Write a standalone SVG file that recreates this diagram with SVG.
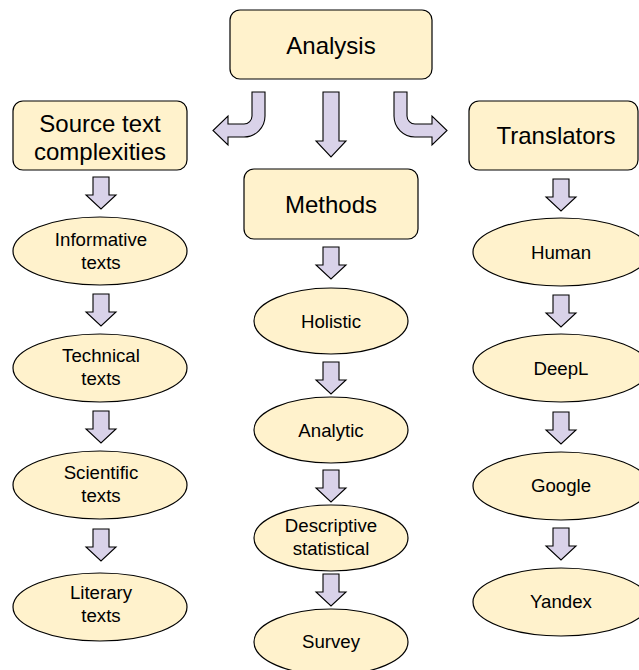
<svg xmlns="http://www.w3.org/2000/svg" width="639" height="670" viewBox="0 0 639 670">
<style>
.box{fill:#fff2cc;stroke:#000;stroke-width:1.2}
.ell{fill:#fff2cc;stroke:#000;stroke-width:1.2}
.arr{fill:#d9d2e9;stroke:#000;stroke-width:1.1;stroke-linejoin:miter}
.tb{font-family:"Liberation Sans",Arial,sans-serif;font-size:24px;fill:#000;text-anchor:middle}
.te{font-family:"Liberation Sans",Arial,sans-serif;font-size:18.67px;fill:#000;text-anchor:middle}
</style>
<defs>
<path id="down" class="arr" d="M-8,0 H8 V18 H15 L0,32 L-15,18 H-8 Z"/>
</defs>
<rect width="639" height="670" fill="#fff"/>
<g id="connectors">
<path class="arr" d="M252,92 H265 V116 A21,21 0 0 1 244,137 H228 V145 L213,130.5 L228,116 V124 H244 A8,8 0 0 0 252,116 Z"/>
<path class="arr" d="M323,92 H339 V141 H346 L331,157 L316,141 H323 Z"/>
<path class="arr" d="M407,92 H394 V116 A21,21 0 0 0 415,137 H432 V145 L447,130.5 L432,116 V124 H415 A8,8 0 0 1 407,116 Z"/>
<use href="#down" x="101" y="177"/>
<use href="#down" x="101" y="294"/>
<use href="#down" x="101" y="411"/>
<use href="#down" x="101" y="529"/>
<use href="#down" x="331" y="247"/>
<use href="#down" x="331" y="362"/>
<use href="#down" x="331" y="470"/>
<use href="#down" x="331" y="574"/>
<use href="#down" x="561" y="179"/>
<use href="#down" x="561" y="295"/>
<use href="#down" x="561" y="412"/>
<use href="#down" x="561" y="528"/>
</g>
<g id="analysis"><rect class="box" x="230" y="10" width="202" height="69" rx="10"/><text class="tb" x="331" y="54">Analysis</text></g>
<g id="source"><rect class="box" x="13" y="101" width="174" height="69" rx="10"/><text class="tb" x="100" y="132">Source text</text><text class="tb" x="100" y="159.5">complexities</text></g>
<g id="translators"><rect class="box" x="469" y="101" width="169" height="69" rx="10"/><text class="tb" x="556" y="144">Translators</text></g>
<g id="methods"><rect class="box" x="244" y="169" width="174" height="70" rx="10"/><text class="tb" x="331" y="213">Methods</text></g>
<g id="informative"><ellipse class="ell" cx="100" cy="251" rx="87" ry="34"/><text class="te" x="101" y="245.5">Informative</text><text class="te" x="101" y="268.5">texts</text></g>
<g id="technical"><ellipse class="ell" cx="100" cy="368" rx="87" ry="34"/><text class="te" x="101" y="362">Technical</text><text class="te" x="101" y="385">texts</text></g>
<g id="scientific"><ellipse class="ell" cx="100" cy="485" rx="87" ry="34"/><text class="te" x="101" y="479">Scientific</text><text class="te" x="101" y="502">texts</text></g>
<g id="literary"><ellipse class="ell" cx="100" cy="607" rx="87" ry="34"/><text class="te" x="101" y="599">Literary</text><text class="te" x="101" y="622">texts</text></g>
<g id="holistic"><ellipse class="ell" cx="331" cy="321" rx="77" ry="33"/><text class="te" x="331" y="327.5">Holistic</text></g>
<g id="analytic"><ellipse class="ell" cx="331" cy="430" rx="77" ry="33"/><text class="te" x="331" y="436.5">Analytic</text></g>
<g id="descriptive"><ellipse class="ell" cx="331" cy="538" rx="77" ry="33"/><text class="te" x="331" y="532">Descriptive</text><text class="te" x="331" y="555">statistical</text></g>
<g id="survey"><ellipse class="ell" cx="331" cy="642" rx="77" ry="33"/><text class="te" x="331" y="648">Survey</text></g>
<g id="human"><ellipse class="ell" cx="561" cy="252" rx="88" ry="34"/><text class="te" x="561" y="258.5">Human</text></g>
<g id="deepl"><ellipse class="ell" cx="561" cy="368" rx="88" ry="34"/><text class="te" x="561" y="374.5">DeepL</text></g>
<g id="google"><ellipse class="ell" cx="561" cy="486" rx="88" ry="34"/><text class="te" x="561" y="492">Google</text></g>
<g id="yandex"><ellipse class="ell" cx="561" cy="602" rx="88" ry="34"/><text class="te" x="561" y="608">Yandex</text></g>
</svg>
